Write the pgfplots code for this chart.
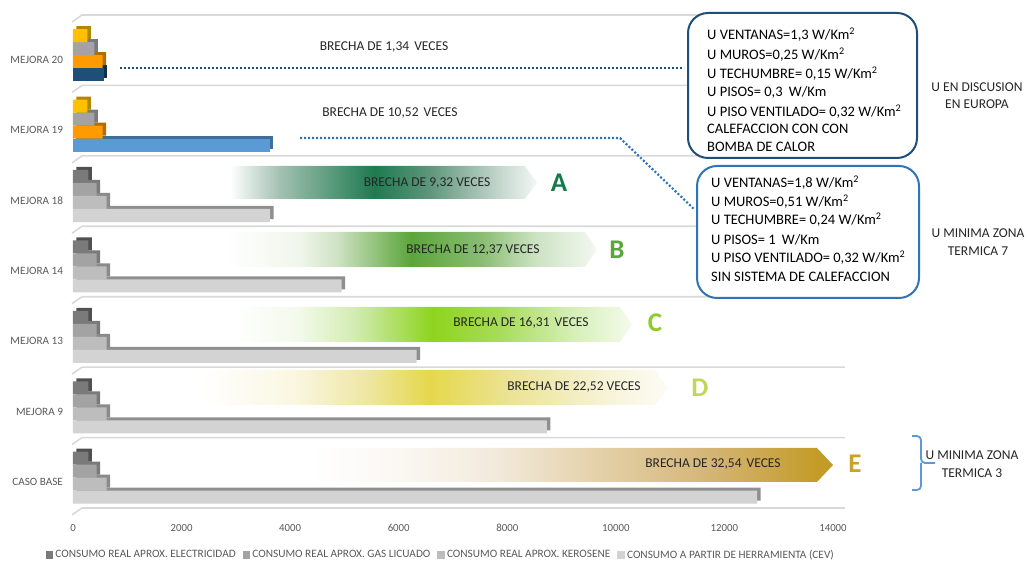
\documentclass[border=0pt]{standalone}
\usepackage{pgfplots}
\pgfplotsset{compat=1.18}
\usepackage{fontspec}
\setmainfont{Carlito}
\definecolor{lbl}{HTML}{595959}
\definecolor{gridc}{HTML}{D9D9D9}
\definecolor{fElec}{HTML}{7A7A7A}\definecolor{sElec}{HTML}{505050}
\definecolor{fGas}{HTML}{A3A3A3}\definecolor{sGas}{HTML}{7A7A7A}
\definecolor{fKer}{HTML}{BDBDBD}\definecolor{sKer}{HTML}{8A8A8A}
\definecolor{fCev}{HTML}{D3D3D3}\definecolor{sCev}{HTML}{8F8F8F}
\definecolor{fYel}{HTML}{FFC000}\definecolor{sYel}{HTML}{B38600}
\definecolor{fOra}{HTML}{FF9A00}\definecolor{sOra}{HTML}{B36C00}
\definecolor{fNav}{HTML}{1F4E79}\definecolor{sNav}{HTML}{142F4A}
\definecolor{fBlu}{HTML}{5B9BD5}\definecolor{sBlu}{HTML}{3F6E98}
\definecolor{boxA}{HTML}{1F4E79}
\definecolor{boxB}{HTML}{2E75B6}
\definecolor{bracec}{HTML}{5B9BD5}
\definecolor{txt}{HTML}{262626}
% band colours
\definecolor{aA}{HTML}{A3C1B2}\definecolor{aB}{HTML}{1F7A50}\definecolor{aC}{HTML}{5E967C}\definecolor{aD}{HTML}{BDD2C7}\definecolor{aE}{HTML}{F3F7F5}
\definecolor{bA}{HTML}{F0F6EC}\definecolor{bB}{HTML}{CFE3C4}\definecolor{bC}{HTML}{5BA53B}\definecolor{bD}{HTML}{8ABD73}\definecolor{bE}{HTML}{CBE2C1}\definecolor{bF}{HTML}{F3F8F1}
\definecolor{cA}{HTML}{F3FAEC}\definecolor{cB}{HTML}{D4EDB5}\definecolor{cC}{HTML}{8ED41E}\definecolor{cD}{HTML}{A8DC5A}\definecolor{cE}{HTML}{D3EEB2}\definecolor{cF}{HTML}{F4FBEC}
\definecolor{dA}{HTML}{FAF7E2}\definecolor{dB}{HTML}{EFE7A6}\definecolor{dC}{HTML}{E5D84C}\definecolor{dD}{HTML}{EBE290}\definecolor{dE}{HTML}{F6F2D2}\definecolor{dF}{HTML}{FDFCF6}
\definecolor{eA}{HTML}{FBF8F3}\definecolor{eB}{HTML}{F2E9DA}\definecolor{eC}{HTML}{E5D2AC}\definecolor{eD}{HTML}{D5B77A}\definecolor{eE}{HTML}{C39B28}
\definecolor{letA}{HTML}{127A47}\definecolor{letB}{HTML}{5AA63C}\definecolor{letC}{HTML}{8DCB2A}\definecolor{letD}{HTML}{C3D65A}\definecolor{letE}{HTML}{C9A227}
\pgfdeclarehorizontalshading{shA}{100bp}{color(0bp)=(white); color(25bp)=(white); color(33bp)=(aA); color(48.5bp)=(aB); color(57.5bp)=(aC); color(68bp)=(aD); color(75bp)=(aE); color(100bp)=(aE)}
\pgfdeclarehorizontalshading{shB}{100bp}{color(0bp)=(white); color(25bp)=(white); color(35bp)=(bA); color(40bp)=(bB); color(50bp)=(bC); color(59.5bp)=(bD); color(66.5bp)=(bE); color(75bp)=(bF); color(100bp)=(bF)}
\pgfdeclarehorizontalshading{shC}{100bp}{color(0bp)=(white); color(25bp)=(white); color(33bp)=(cA); color(40bp)=(cB); color(50bp)=(cC); color(58.5bp)=(cD); color(67bp)=(cE); color(75bp)=(cF); color(100bp)=(cF)}
\pgfdeclarehorizontalshading{shD}{100bp}{color(0bp)=(white); color(25bp)=(white); color(35bp)=(dA); color(42.5bp)=(dB); color(49.5bp)=(dC); color(57.5bp)=(dD); color(67.5bp)=(dE); color(75bp)=(dF); color(100bp)=(dF)}
\pgfdeclarehorizontalshading{shE}{100bp}{color(0bp)=(white); color(25bp)=(white); color(33.5bp)=(eA); color(43bp)=(eB); color(52bp)=(eC); color(62.5bp)=(eD); color(73.5bp)=(eE); color(75bp)=(eE); color(100bp)=(eE)}
\pgfplotsset{
  bst/.style={xbar, bar width=0.185, draw=none},
  shd/.style={xshift=3.5pt, yshift=3pt, forget plot},
}
\begin{document}
\begin{tikzpicture}
\path[use as bounding box] (-73pt,-53pt) rectangle (953pt,508pt);
\begin{axis}[
  at={(0pt,0pt)}, anchor=south west,
  scale only axis, width=760pt, height=493pt,
  xmin=0, xmax=14000, ymin=-0.43, ymax=6.57,
  axis line style={draw=none}, tick style={draw=none},
  xtick={0,2000,...,14000},
  ytick={0,...,6},
  yticklabels={CASO BASE, MEJORA 9, MEJORA 13, MEJORA 14, MEJORA 18, MEJORA 19, MEJORA 20},
  scaled x ticks=false,
  /pgf/number format/assume math mode=true,
  xticklabel style={/pgf/number format/1000 sep={}, font=\fontsize{10.8}{12}\selectfont, text=lbl, yshift=-13pt},
  yticklabel style={font=\fontsize{11.2}{12}\selectfont, text=lbl, xshift=-6.5pt, yshift=-4.5pt},
  clip=false,
  legend style={at={(0.484,-0.0954)}, anchor=center, draw=none, fill=none,
    font=\fontsize{11.3}{13}\selectfont, text=lbl, legend columns=4,
    /tikz/every even column/.append style={column sep=5pt},
    nodes={inner xsep=2pt}},
  legend cell align=left,
]
\pgfplotsinvokeforeach{-0.43,0.57,1.57,2.57,3.57,4.57,5.57,6.57}{
  \draw[gridc, line width=1.6pt] ([xshift=-1pt,yshift=-7pt]axis cs:0,#1) -- ([xshift=9pt]axis cs:0,#1) -- (axis cs:14220,#1);
}
% ---- shadows (3D sides)
\addplot[bst, bar shift=-0.277, fill=sCev, shd] coordinates {(12600,0) (8730,1) (6330,2) (4950,3) (3630,4)};
\addplot[bst, bar shift=-0.277, fill=sBlu, shd] coordinates {(3620,5)};
\addplot[bst, bar shift=-0.277, fill=sNav, shd] coordinates {(570,6)};
\addplot[bst, bar shift=-0.0925, fill=sKer, shd] coordinates {(620,0) (620,1) (620,2) (620,3) (620,4)};
\addplot[bst, bar shift=-0.0925, fill=sOra, shd] coordinates {(547,5) (547,6)};
\addplot[bst, bar shift=0.0925, fill=sGas, shd] coordinates {(436,0) (436,1) (436,2) (436,3) (436,4) (392,5) (392,6)};
\addplot[bst, bar shift=0.277, fill=sElec, shd] coordinates {(282,0) (282,1) (282,2) (282,3) (282,4)};
\addplot[bst, bar shift=0.277, fill=sYel, shd] coordinates {(263,5) (263,6)};
% ---- faces
\addplot[bst, bar shift=0.277, fill=fElec, legend image code/.code={\fill[fElec] (0pt,-3.8pt) rectangle (7.6pt,3.8pt);}] coordinates {(282,0) (282,1) (282,2) (282,3) (282,4)};
\addlegendentry{CONSUMO REAL APROX. ELECTRICIDAD}
\addplot[bst, bar shift=0.0925, fill=fGas, legend image code/.code={\fill[fGas] (0pt,-3.8pt) rectangle (7.6pt,3.8pt);}] coordinates {(436,0) (436,1) (436,2) (436,3) (436,4) (392,5) (392,6)};
\addlegendentry{CONSUMO REAL APROX. GAS LICUADO}
\addplot[bst, bar shift=-0.0925, fill=fKer, legend image code/.code={\fill[fKer] (0pt,-3.8pt) rectangle (7.6pt,3.8pt);}] coordinates {(620,0) (620,1) (620,2) (620,3) (620,4)};
\addlegendentry{CONSUMO REAL APROX. KEROSENE}
\addplot[bst, bar shift=-0.277, fill=fCev, legend image code/.code={\fill[fCev] (0pt,-3.8pt) rectangle (7.6pt,3.8pt);}] coordinates {(12600,0) (8730,1) (6330,2) (4950,3) (3630,4)};
\addlegendentry{CONSUMO A PARTIR DE HERRAMIENTA (CEV)}
\addplot[bst, bar shift=0.277, fill=fYel, forget plot] coordinates {(263,5) (263,6)};
\addplot[bst, bar shift=-0.0925, fill=fOra, forget plot] coordinates {(547,5) (547,6)};
\addplot[bst, bar shift=-0.277, fill=fBlu, forget plot] coordinates {(3620,5)};
\addplot[bst, bar shift=-0.277, fill=fNav, forget plot] coordinates {(570,6)};
\end{axis}
% ---- annotations in pixel coordinates of the reference
\begin{scope}[xshift=-73pt, yshift=508pt, x=1pt, y=-1pt]
 % gradient bands
 \shade[shading=shA] (230,166) -- (525,166) -- (537,182.5) -- (525,199) -- (230,199) -- cycle;
 \shade[shading=shB] (225,232) -- (585,232) -- (597,249.5) -- (585,267) -- (225,267) -- cycle;
 \shade[shading=shC] (233,307) -- (620,307) -- (632,324.5) -- (620,342) -- (233,342) -- cycle;
 \shade[shading=shD] (200,370) -- (655,370) -- (668,387.5) -- (655,405) -- (200,405) -- cycle;
 \shade[shading=shE] (310,448) -- (817,448) -- (833,465) -- (817,482) -- (310,482) -- cycle;
 \begin{scope}[font=\fontsize{13.5}{16}\selectfont, text=txt]
  \node at (427,183) {BRECHA DE 9,32 VECES};
  \node at (473,250) {BRECHA DE 12,37 VECES};
  \node at (521,323) {BRECHA DE 16,31\hspace{2pt} VECES};
  \node at (574,387) {BRECHA DE 22,52 VECES};
  \node at (713,464) {BRECHA DE 32,54\hspace{2pt} VECES};
  \node at (384,47) {BRECHA DE 1,34\hspace{2pt} VECES};
  \node at (390,113) {BRECHA DE 10,52\hspace{2pt} VECES};
 \end{scope}
 \begin{scope}[font=\fontsize{27}{30}\selectfont\bfseries]
  \node[text=letA] at (559,183) {A};
  \node[text=letB] at (617,250) {B};
  \node[text=letC] at (655,323) {C};
  \node[text=letD] at (700,388) {D};
  \node[text=letE] at (855,464) {E};
 \end{scope}
 % dotted leaders
 \draw[boxA, line width=2.2pt, dash pattern=on 2pt off 2pt] (120,68) -- (684,68);
 \draw[boxB, line width=2.2pt, dash pattern=on 2pt off 2pt] (300,138) -- (620,138) -- (695,210);
 % boxes
 \draw[boxA, line width=2pt, rounded corners=20pt, fill=white] (688,13) rectangle (917,158);
 \draw[boxB, line width=2pt, rounded corners=20pt, fill=white] (697,166) rectangle (919,298);
 \begin{scope}[font=\fontsize{14.5}{17}\selectfont, text=black]
  \node[anchor=base west, inner sep=0] at (707,39.5) {U VENTANAS=1,3 W/Km\textsuperscript{2}};
  \node[anchor=base west, inner sep=0] at (707,59.5) {U MUROS=0,25 W/Km\textsuperscript{2}};
  \node[anchor=base west, inner sep=0] at (707,78.5) {U TECHUMBRE= 0,15 W/Km\textsuperscript{2}};
  \node[anchor=base west, inner sep=0] at (707,96.5) {U PISOS= 0,3\hspace{3pt} W/Km};
  \node[anchor=base west, inner sep=0] at (707,116.5) {U PISO VENTILADO= 0,32 W/Km\textsuperscript{2}};
  \node[anchor=base west, inner sep=0] at (707,133.5) {CALEFACCION CON CON};
  \node[anchor=base west, inner sep=0] at (707,151.5) {BOMBA DE CALOR};
  \node[anchor=base west, inner sep=0] at (711,187.5) {U VENTANAS=1,8 W/Km\textsuperscript{2}};
  \node[anchor=base west, inner sep=0] at (711,206.5) {U MUROS=0,51 W/Km\textsuperscript{2}};
  \node[anchor=base west, inner sep=0] at (711,224.5) {U TECHUMBRE= 0,24 W/Km\textsuperscript{2}};
  \node[anchor=base west, inner sep=0] at (711,244.5) {U PISOS= 1\hspace{3pt} W/Km};
  \node[anchor=base west, inner sep=0] at (711,262.5) {U PISO VENTILADO= 0,32 W/Km\textsuperscript{2}};
  \node[anchor=base west, inner sep=0] at (711,281.5) {SIN SISTEMA DE CALEFACCION};
 \end{scope}
 \begin{scope}[font=\fontsize{13.5}{16}\selectfont, text=txt]
  \node at (977,87) {U EN DISCUSION};
  \node at (977,104) {EN EUROPA};
  \node at (978,233) {U MINIMA ZONA};
  \node at (978,251) {TERMICA 7};
  \node at (972,455) {U MINIMA ZONA};
  \node at (972,473) {TERMICA 3};
 \end{scope}
 \draw[bracec, line width=1.8pt, rounded corners=4pt] (912,436) -- (921,436) -- (921,463) -- (935,463);
 \draw[bracec, line width=1.8pt, rounded corners=4pt] (912,490) -- (921,490) -- (921,463);
\end{scope}
\end{tikzpicture}
\end{document}
